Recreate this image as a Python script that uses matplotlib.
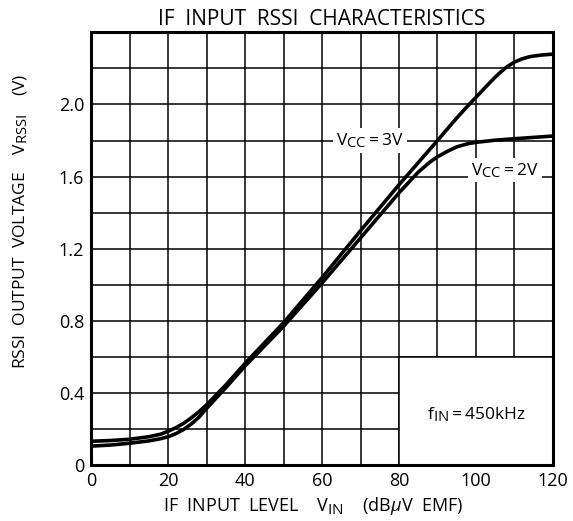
import numpy as np
import matplotlib
matplotlib.use("Agg")
from matplotlib import pyplot as plt
from matplotlib.patches import Rectangle
import matplotlib._mathtext as mt

# subscripts in the reference are almost full size
mt.SHRINK_FACTOR = 0.85

plt.rcParams['font.family'] = ['Open Sans', 'DejaVu Sans']
plt.rcParams['mathtext.fontset'] = 'custom'
plt.rcParams['mathtext.rm'] = 'Open Sans'
plt.rcParams['mathtext.it'] = 'Open Sans:italic'

# IF input level (dBuV EMF) vs RSSI output voltage (V)
x_3v = [0, 5, 10, 15, 18, 20, 22, 24, 26, 28, 30, 35, 40, 50, 60, 70, 80, 90,
        95, 98, 100, 102, 104, 106, 108, 110, 112, 114, 117, 120]
y_3v = [0.133, 0.137, 0.144, 0.158, 0.172, 0.188, 0.208, 0.232, 0.262, 0.296,
        0.335, 0.445, 0.565, 0.79, 1.04, 1.30, 1.555, 1.80, 1.925, 1.995,
        2.04, 2.085, 2.13, 2.172, 2.208, 2.235, 2.253, 2.265, 2.274, 2.279]

x_2v = [0, 5, 10, 15, 18, 20, 22, 24, 26, 28, 30, 35, 40, 50, 60, 70, 80, 85,
        88, 90, 93, 95, 98, 100, 105, 110, 120]
y_2v = [0.106, 0.112, 0.122, 0.135, 0.147, 0.158, 0.175, 0.198, 0.228, 0.266,
        0.315, 0.43, 0.55, 0.77, 1.01, 1.26, 1.51, 1.625, 1.68, 1.71, 1.745,
        1.765, 1.783, 1.79, 1.802, 1.81, 1.825]

x_ticks = [0, 20, 40, 60, 80, 100, 120]
y_ticks = [0, 0.4, 0.8, 1.2, 1.6, 2.0]
y_ticklabels = ['0', '0.4', '0.8', '1.2', '1.6', '2.0']

fig = plt.figure(figsize=(5.73, 5.21), dpi=100)
ax = fig.add_axes([0.159, 0.107, 0.806, 0.831])
ax.set_xlim(0, 120)
ax.set_ylim(0, 2.4)

# grid every 10 dB / 0.2 V
for gx in np.arange(10, 120, 10):
    ax.axvline(gx, color='black', lw=1.1, zorder=1)
for gy in np.arange(0.2, 2.4, 0.2):
    ax.axhline(gy, color='black', lw=1.1, zorder=1)

# blank box for the frequency note
ax.add_patch(Rectangle((80, 0), 40, 0.6, facecolor='white', edgecolor='black',
                       lw=1.1, zorder=1.5))

ax.plot(x_3v, y_3v, color='black', lw=2.6, zorder=3, solid_capstyle='butt')
ax.plot(x_2v, y_2v, color='black', lw=2.6, zorder=3, solid_capstyle='butt')

ax.text(72.5, 1.8, r'$\mathregular{V_{CC}=3V}$', fontsize=12.5, ha='center',
        va='center', zorder=4,
        bbox=dict(facecolor='white', edgecolor='none', pad=2))
ax.text(107.5, 1.635, r'$\mathregular{V_{CC}=2V}$', fontsize=12.5, ha='center',
        va='center', zorder=4,
        bbox=dict(facecolor='white', edgecolor='none', pad=2))
ax.text(100, 0.28, r'$\mathregular{f_{IN}=450kHz}$', fontsize=12.5,
        ha='center', va='center', zorder=4)

ax.set_xticks(x_ticks)
ax.set_yticks(y_ticks)
ax.set_yticklabels(y_ticklabels)
ax.tick_params(length=0, labelsize=13, pad=5)
for s in ax.spines.values():
    s.set_linewidth(2.2)
    s.set_zorder(5)

ax.set_title('IF  INPUT  RSSI  CHARACTERISTICS', fontsize=15, pad=5)
ax.set_xlabel(r'IF  INPUT  LEVEL    $\mathregular{V_{IN}}$    (dB$\mathit{\mu}$V  EMF)',
              fontsize=13)
ax.set_ylabel(r'RSSI  OUTPUT  VOLTAGE    $\mathregular{V_{RSSI}}$    (V)',
              fontsize=12.5)
ax.xaxis.set_label_coords(0.48, -0.068)
ax.yaxis.set_label_coords(-0.133, 0.563)

fig.savefig('out.png', dpi=100)
